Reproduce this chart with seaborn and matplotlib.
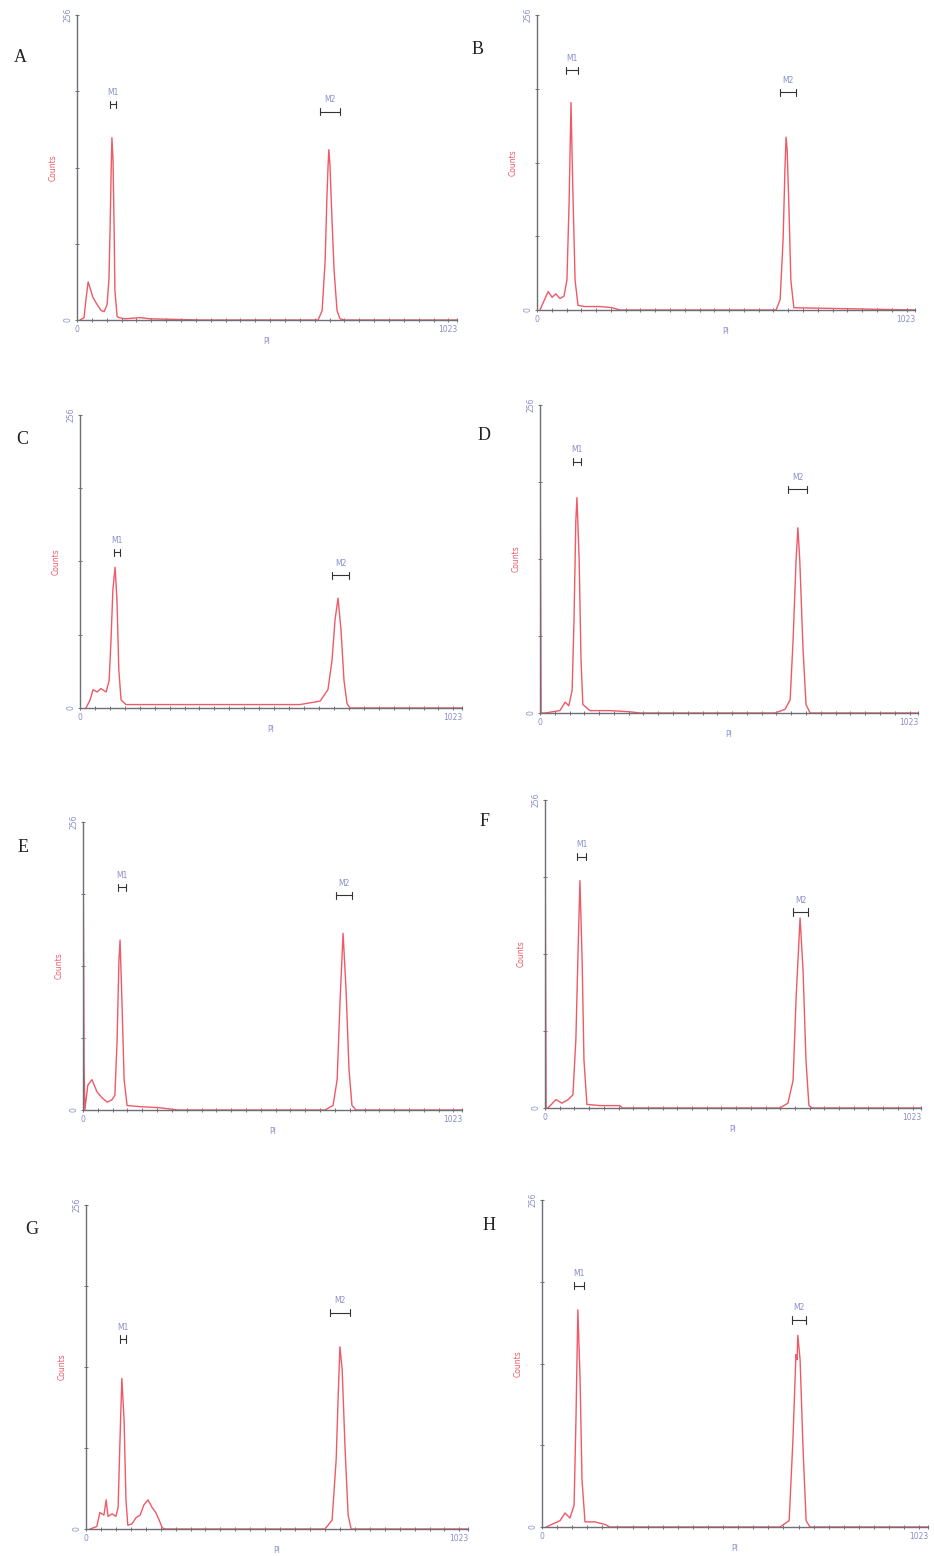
"""DNA content histograms, panels A-H (channel vs counts)"""
import matplotlib
matplotlib.use("Agg")
import matplotlib.pyplot as plt
import seaborn as sns
from matplotlib.ticker import MultipleLocator

sns.set_style("white")

panel_names = ["A", "B", "C", "D", "E", "F", "G", "H"]

# channel (0-1023) / counts (0-256)
a_x = [8, 19, 24, 30, 35, 43, 54, 65, 73, 81, 86, 89, 92, 94, 97, 100, 102, 108, 113, 129, 170, 197, 331,
       649, 660, 668, 673, 676, 678, 681, 686, 692, 700, 708, 721, 1023]
a_y = [0, 2, 17, 32, 27, 19, 13, 8, 7, 13, 34, 76, 126, 153, 134, 76, 25, 3, 2, 1, 2, 1, 0,
       0, 8, 50, 105, 130, 143, 130, 88, 42, 8, 1, 0, 0]

b_x = [8, 30, 41, 51, 62, 73, 81, 87, 92, 97, 103, 111, 130, 170, 203, 225,
       647, 658, 666, 671, 674, 677, 682, 687, 695, 1023]
b_y = [0, 16, 11, 14, 10, 12, 26, 95, 180, 104, 26, 4, 3, 3, 2, 0,
       0, 9, 61, 122, 150, 139, 87, 26, 2, 0]

c_x = [16, 27, 35, 46, 56, 70, 78, 83, 88, 94, 99, 104, 110, 123, 214, 321, 455, 589,
       643, 664, 675, 683, 691, 699, 707, 715, 723, 1023]
c_y = [0, 7, 16, 14, 17, 14, 24, 59, 103, 123, 94, 33, 7, 3, 3, 3, 3, 3,
       6, 16, 42, 77, 96, 68, 24, 4, 0, 0]

d_x = [0, 3, 14, 54, 68, 78, 87, 92, 97, 100, 106, 111, 116, 135, 189, 244, 271,
       636, 663, 677, 685, 693, 698, 703, 712, 720, 731, 1023]
d_y = [256, 0, 0, 2, 9, 6, 19, 77, 160, 179, 127, 44, 7, 2, 2, 1, 0,
       0, 3, 11, 61, 127, 154, 127, 52, 7, 0, 0]

e_x = [0, 3, 5, 13, 24, 38, 51, 65, 78, 86, 92, 97, 100, 105, 111, 119, 154, 208, 256,
       653, 675, 686, 694, 702, 710, 718, 726, 737, 1023]
e_y = [256, 40, 0, 22, 27, 16, 11, 7, 9, 13, 62, 133, 151, 98, 27, 4, 3, 2, 0,
       0, 4, 27, 98, 157, 107, 36, 4, 0, 0]

f_x = [0, 3, 8, 30, 46, 63, 76, 84, 90, 95, 101, 106, 114, 150, 204, 210,
       639, 661, 675, 683, 694, 702, 710, 718, 727, 1023]
f_y = [256, 0, 0, 7, 4, 7, 11, 57, 131, 189, 123, 40, 3, 2, 2, 0,
       0, 4, 23, 90, 158, 115, 40, 2, 0, 0]

g_x = [11, 29, 37, 48, 54, 59, 70, 80, 86, 91, 96, 102, 107, 112, 123, 134, 145, 155, 166,
       177, 187, 196, 204, 212, 640, 659, 670, 675, 680, 686, 694, 702, 710, 1023]
g_y = [0, 2, 13, 11, 23, 10, 12, 10, 17, 70, 119, 86, 23, 3, 4, 9, 11, 19, 23,
       17, 13, 7, 1, 0, 0, 7, 55, 102, 144, 126, 62, 11, 0, 0]

h_x = [11, 48, 61, 74, 85, 90, 95, 101, 106, 114, 140, 167, 180,
       631, 655, 665, 673, 676, 678, 684, 692, 700, 710, 1023]
h_y = [0, 5, 11, 7, 17, 84, 170, 115, 37, 4, 4, 2, 0,
       0, 5, 68, 135, 131, 150, 131, 60, 5, 0, 0]

# marker gates M1 / M2: (start channel, end channel, height in counts)
m1_gates = [(89, 105, 181), (78, 111, 208), (91, 107, 136), (89, 111, 209),
            (94, 116, 198), (87, 112, 209), (91, 107, 150), (85, 111, 189)]
m2_gates = [(654, 708, 175), (658, 701, 189), (675, 720, 116), (671, 723, 186),
            (683, 726, 191), (675, 716, 163), (653, 707, 171), (663, 700, 162)]

curves_x = [a_x, b_x, c_x, d_x, e_x, f_x, g_x, h_x]
curves_y = [a_y, b_y, c_y, d_y, e_y, f_y, g_y, h_y]

# axes frames in pixels: left, right, bottom, top
frames = [(77, 457, 320, 15), (537, 915, 310, 15), (80, 462, 708, 415), (540, 918, 713, 405),
          (83, 462, 1110, 822), (545, 921, 1108, 800), (86, 468, 1529, 1205), (542, 928, 1527, 1200)]
letter_pos = [(14, 57), (472, 50), (16, 440), (478, 435), (18, 848), (480, 822), (25, 1230), (483, 1225)]

W, H = 934, 1556
fig = plt.figure(figsize=(W / 100, H / 100), dpi=100)
red = "#ee5a66"
axis_col = "#6f6f78"
label_col = "#8a8fc8"

for i, name in enumerate(panel_names):
    x0, x1, y0, y1 = frames[i]
    ax = fig.add_axes([x0 / W, 1 - y0 / H, (x1 - x0) / W, (y0 - y1) / H])
    sns.lineplot(x=curves_x[i], y=curves_y[i], ax=ax, color=red, lw=1.0,
                 sort=False, estimator=None)
    ax.set_xlim(0, 1023)
    ax.set_ylim(0, 256)
    for s in ["top", "right"]:
        ax.spines[s].set_visible(False)
    for s in ["left", "bottom"]:
        ax.spines[s].set_color(axis_col)
        ax.spines[s].set_linewidth(1.0)

    ax.set_xticks([0, 1023])
    ax.set_xticklabels(["0", "1023"], fontsize=5.5, color=label_col)
    ax.get_xticklabels()[1].set_horizontalalignment("right")
    ax.xaxis.set_minor_locator(MultipleLocator(40))
    ax.set_yticks([0, 64, 128, 192, 256])
    ax.set_yticklabels(["0", "", "", "", "256"], fontsize=5.5, color=label_col, rotation=90, va="center")
    ax.tick_params(axis="both", which="both", direction="inout", length=3, width=0.7,
                   color=axis_col, pad=2, bottom=True, left=True)
    ax.tick_params(axis="x", which="minor", length=2.5)
    ax.set_xlabel("PI", fontsize=5.5, color=label_col, labelpad=2)
    ax.set_ylabel("Counts", fontsize=5.5, color=red, labelpad=4)
    ax.grid(False)

    for lab, (g0, g1, gy) in (("M1", m1_gates[i]), ("M2", m2_gates[i])):
        ax.plot([g0, g1], [gy, gy], color="#333333", lw=0.8)
        ax.plot([g0, g0], [gy - 3, gy + 3], color="#333333", lw=0.8)
        ax.plot([g1, g1], [gy - 3, gy + 3], color="#333333", lw=0.8)
        ax.text((g0 + g1) / 2, gy + 6, lab, fontsize=5.5, color=label_col,
                ha="center", va="bottom")

    lx, ly = letter_pos[i]
    fig.text(lx / W, 1 - ly / H, name, fontsize=13, family="Liberation Serif",
             ha="left", va="center", color="#222222")

fig.savefig("out.png", dpi=100, facecolor="white")
